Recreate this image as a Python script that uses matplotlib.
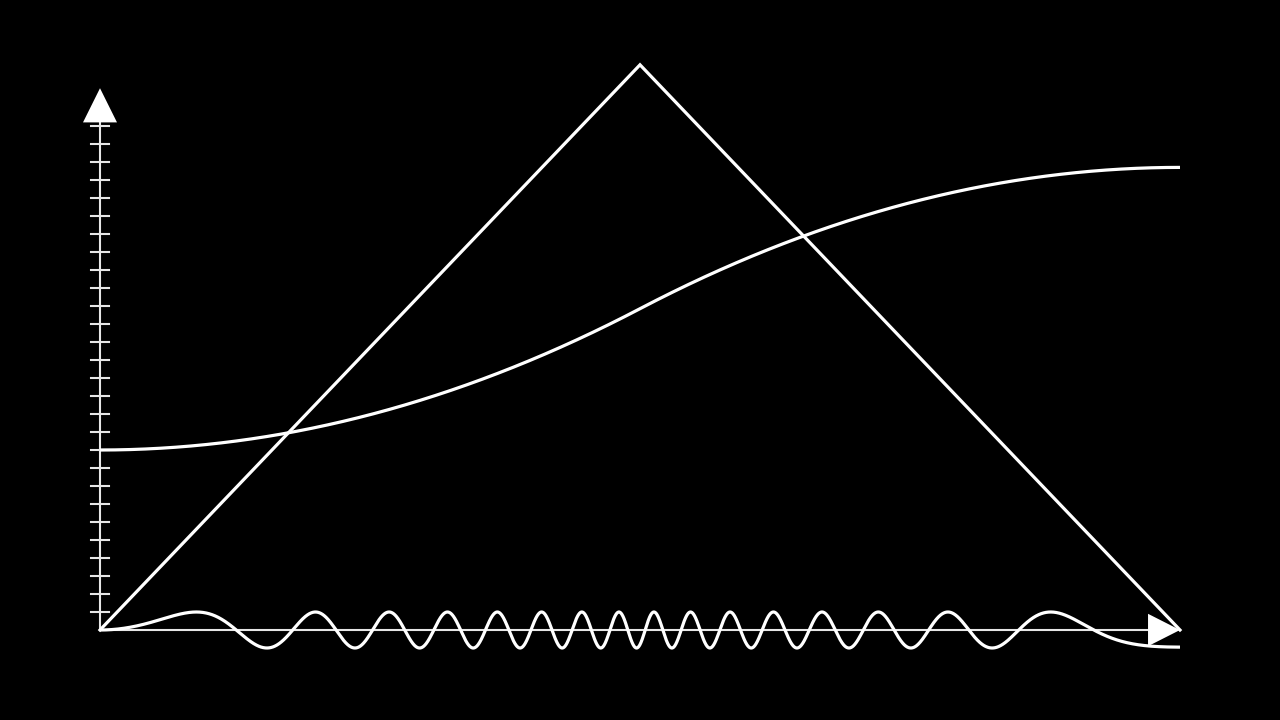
import numpy as np
import matplotlib
matplotlib.use("Agg")
import matplotlib.pyplot as plt
from matplotlib.patches import Polygon

# values in y-tick units, x runs 0..1
tri_x = [0.0, 0.5, 1.0]
tri_y = [0.0, 31.4, 0.0]

ease_start = 10.0      # smooth curve starts here
ease_end = 25.7        # ... and ends here
wave_amp = 1.0
wave_phase_total = 31.4 * np.pi   # total phase swept by the chirp

n_ticks = 28
y_axis_top = 30.1
x_axis_end = 1.0

fg = 'white'
axis_col = '#e6e6e6'


def ease_in_out_quad(u):
    return np.where(u < 0.5, 2 * u**2, 1 - 2 * (1 - u)**2)


u = np.linspace(0, 1, 4000)
curve = ease_start + (ease_end - ease_start) * ease_in_out_quad(u)
wave = wave_amp * np.sin(wave_phase_total * ease_in_out_quad(u))

fig = plt.figure(figsize=(12.8, 7.2), dpi=100, facecolor='black')
ax = fig.add_axes([0, 0, 1, 1])
ax.set_facecolor('black')
ax.set_xlim(-100 / 1080, 1180 / 1080)
ax.set_ylim(-5, 35)
ax.axis('off')

# axes
ax.plot([0, 0.9704], [0, 0], color=axis_col, lw=1.5, zorder=1)
ax.plot([0, 0], [0, 28.3], color=axis_col, lw=1.5, zorder=1)
for k in range(1, n_ticks + 1):
    ax.plot([-9 / 1080, 9 / 1080], [k, k], color=axis_col, lw=1.5, zorder=1)

# curves
ax.plot(u, wave, color=fg, lw=2.3, zorder=2, solid_capstyle='butt')
ax.plot(u, curve, color=fg, lw=2.3, zorder=2, solid_capstyle='butt')
ax.plot(tri_x, tri_y, color=fg, lw=2.3, zorder=2, solid_joinstyle='miter')

# arrow heads
hw = 17 / 1080
ax.add_patch(Polygon([[-hw, 28.2], [hw, 28.2], [0, y_axis_top]],
                     closed=True, color=fg, lw=0, zorder=3))
ax.add_patch(Polygon([[0.9704, -0.9], [0.9704, 0.9], [x_axis_end, 0]],
                     closed=True, color=fg, lw=0, zorder=3))

fig.savefig('out.png', dpi=100, facecolor='black')
